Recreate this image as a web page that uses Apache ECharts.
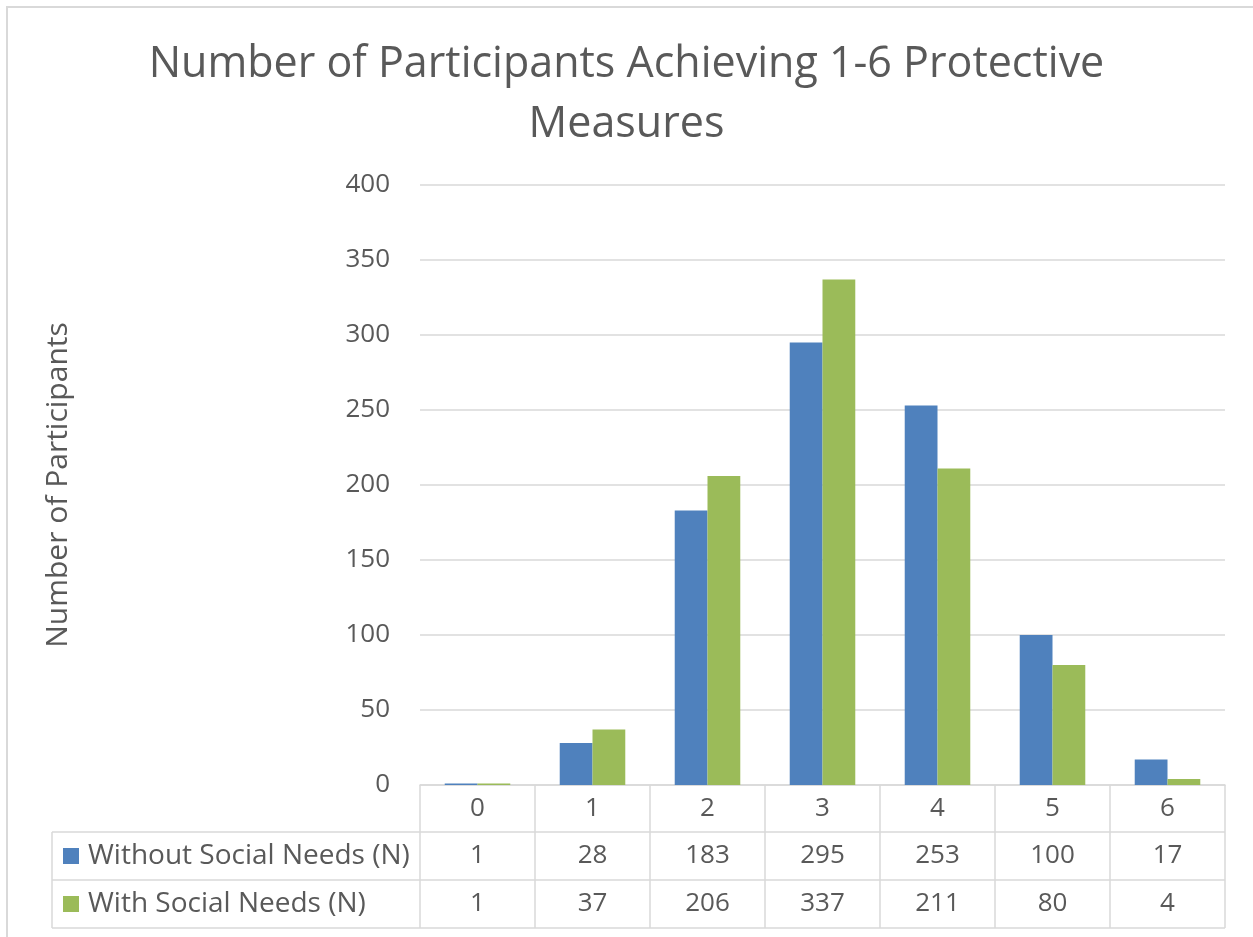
<!DOCTYPE html>
<html>
<head>
<meta charset="utf-8">
<script src="https://cdn.jsdelivr.net/npm/echarts@6/dist/echarts.min.js"></script>
<style>
  html, body { margin: 0; padding: 0; background: #fff; }
  #main { width: 1253px; height: 937px; }
</style>
</head>
<body>
<div id="main"></div>
<script>
// data
var categories = ['0', '1', '2', '3', '4', '5', '6'];
var seriesNames = ['Without Social Needs (N)', 'With Social Needs (N)'];
var withoutNeeds = [1, 28, 183, 295, 253, 100, 17];
var withNeeds = [1, 37, 206, 337, 211, 80, 4];
var colors = ['#4F81BD', '#9BBB59'];

var textColor = '#595959';
var lineColor = '#d9d9d9';
var font = '"Open Sans", "Liberation Sans", sans-serif';

var gridLeft = 420, gridRight = 28, gridTop = 185, gridBottom = 152;
var W = 1253, H = 937;

var myChart = echarts.init(document.getElementById('main'));

var option = {
    animation: false,
    backgroundColor: '#fff',
    title: {
        text: 'Number of Participants Achieving 1-6 Protective\nMeasures',
        left: 'center',
        top: 30,
        textStyle: {
            color: textColor,
            fontFamily: font,
            fontWeight: 'normal',
            fontSize: 43,
            lineHeight: 60
        }
    },
    grid: { left: gridLeft, right: gridRight, top: gridTop, bottom: gridBottom },
    xAxis: {
        type: 'category',
        data: categories,
        axisTick: { show: false },
        axisLabel: { show: false },
        axisLine: { lineStyle: { color: lineColor, width: 1.5 } }
    },
    yAxis: {
        type: 'value',
        min: 0,
        max: 400,
        interval: 50,
        name: 'Number of Participants',
        nameLocation: 'middle',
        nameRotate: 90,
        nameGap: 347,
        nameTextStyle: { color: textColor, fontFamily: font, fontSize: 30 },
        axisLine: { show: false },
        axisTick: { show: false },
        axisLabel: { color: textColor, fontFamily: font, fontSize: 26, margin: 30 },
        splitLine: { lineStyle: { color: lineColor, width: 1.5 } }
    },
    series: [
        {
            name: seriesNames[0],
            type: 'bar',
            data: withoutNeeds,
            itemStyle: { color: colors[0] },
            barGap: '0%',
            barCategoryGap: '43%'
        },
        {
            name: seriesNames[1],
            type: 'bar',
            data: withNeeds,
            itemStyle: { color: colors[1] }
        }
    ]
};
myChart.setOption(option);

// data table under the plot, placed from the category axis
function drawTable() {
    var y0 = H - gridBottom, y1 = y0 + 47, y2 = y1 + 48, y3 = y2 + 48;
    var tableLeft = 52;
    var right = W - gridRight;
    var band = (right - gridLeft) / categories.length;
    var els = [];
    var ls = { stroke: lineColor, lineWidth: 1.5 };

    // outer chart border
    els.push({ type: 'rect', shape: { x: 7, y: 7, width: W, height: H }, style: { fill: null, stroke: lineColor, lineWidth: 2 }, silent: true });

    // horizontal rules
    [y1, y2, y3].forEach(function (y) {
        els.push({ type: 'line', shape: { x1: tableLeft, y1: y, x2: right, y2: y }, style: ls });
    });
    els.push({ type: 'line', shape: { x1: tableLeft, y1: y1, x2: tableLeft, y2: y3 }, style: ls });

    for (var i = 0; i < categories.length; i++) {
        var cx = myChart.convertToPixel({ xAxisIndex: 0 }, categories[i]);
        var xl = cx - band / 2;
        els.push({ type: 'line', shape: { x1: xl, y1: y0, x2: xl, y2: y3 }, style: ls });
        if (i === categories.length - 1) {
            els.push({ type: 'line', shape: { x1: xl + band, y1: y0, x2: xl + band, y2: y3 }, style: ls });
        }
        var cells = [categories[i], withoutNeeds[i], withNeeds[i]];
        var ys = [(y0 + y1) / 2, (y1 + y2) / 2, (y2 + y3) / 2];
        cells.forEach(function (t, k) {
            els.push({
                type: 'text', x: cx, y: ys[k],
                style: { text: String(t), fill: textColor, font: '26px ' + font, align: 'center', verticalAlign: 'middle' }
            });
        });
    }

    // legend keys in the row headers
    var rowMid = [(y1 + y2) / 2, (y2 + y3) / 2];
    seriesNames.forEach(function (name, k) {
        els.push({ type: 'rect', shape: { x: 63, y: rowMid[k] - 8, width: 16, height: 16 }, style: { fill: colors[k] } });
        els.push({
            type: 'text', x: 88, y: rowMid[k],
            style: { text: name, fill: textColor, font: '28px ' + font, align: 'left', verticalAlign: 'middle' }
        });
    });

    myChart.setOption({ graphic: { elements: els } });
}
drawTable();
</script>
</body>
</html>
